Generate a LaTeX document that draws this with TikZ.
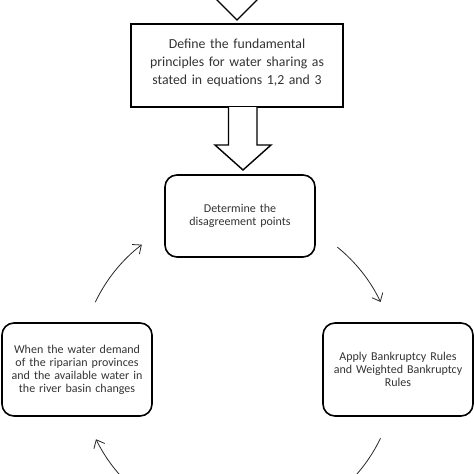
\documentclass[tikz,border=0pt]{standalone}
\usepackage{fontspec}
\setmainfont{Carlito}
\usetikzlibrary{arrows.meta}
\begin{document}
\begin{tikzpicture}[x=1pt,y=1pt,
  sqbox/.style={draw=black, line width=1.6pt, rectangle, align=center, inner sep=2pt, text=black!80},
  rbox/.style={draw=black, line width=1.6pt, rectangle, rounded corners=12pt, align=center, inner sep=2pt, text=black!80,
    minimum width=150pt, minimum height=93pt, text width=140pt, font=\fontsize{12}{13}\selectfont},
  blockarrow/.style={draw=black, line width=1.4pt, fill=white, line join=miter},
  cyc/.style={draw=black!85, line width=0.8pt, -{Straight Barb[length=7pt, width=12pt, line width=0.8pt]}},
  cycplain/.style={draw=black!85, line width=0.8pt}
]
\useasboundingbox (0,0) rectangle (474,-474);
\clip (0,0) rectangle (474,-474);
% top block arrow (head only visible)
\draw[blockarrow] (209,8) -- (237,-20) -- (265,8) -- cycle;
% top box
\node[sqbox, minimum width=212pt, minimum height=83pt, text width=200pt,
  font=\fontsize{13.8}{18}\selectfont] (top) at (237,-65.5)
  {Define the fundamental\\principles for water sharing as\\stated in equations 1,2 and 3\\[-11pt]\mbox{}};
% determine box
\node[rbox, minimum height=82pt] (det) at (240,-216)
  {Determine the\\disagreement points};
% left and right boxes
\node[rbox] (left) at (77,-369.5)
  {When the water demand\\of the riparian provinces\\and the available water in\\the river basin changes};
\node[rbox] (right) at (398,-369.5)
  {Apply Bankruptcy Rules\\and Weighted Bankruptcy\\Rules};
% block arrow between top box and determine box
\draw[blockarrow] (228.5,-107) -- (228.5,-145) -- (215,-145) -- (243,-170) -- (271,-145) -- (257,-145) -- (257,-107);
% cycle arcs
\coordinate (c) at (238,-370);
\draw[cyc] ([shift={(51:158)}]c) arc[start angle=51, end angle=25.5, radius=158];
\draw[cycplain] ([shift={(-25.6:158)}]c) arc[start angle=-25.6, end angle=-60, radius=158];
\draw[cyc] ([shift={(-120:158)}]c) arc[start angle=-120, end angle=-154, radius=158];
\draw[cyc] ([shift={(154.6:158)}]c) arc[start angle=154.6, end angle=127.5, radius=158];
\end{tikzpicture}
\end{document}
